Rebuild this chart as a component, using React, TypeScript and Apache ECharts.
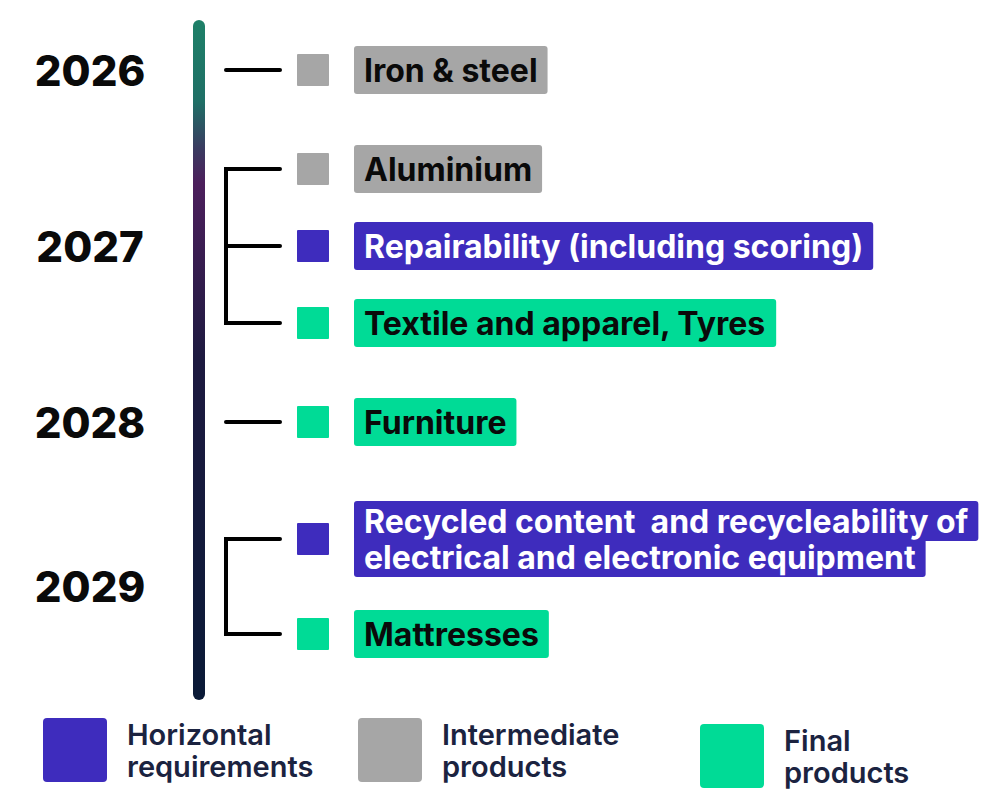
import React, { useEffect, useRef } from 'react';
import * as echarts from 'echarts';

// ---------- data ----------
const years = ['2026', '2027', '2028', '2029'];
const itemLabels = [
  'Iron & steel',
  'Aluminium',
  'Repairability (including scoring)',
  'Textile and apparel, Tyres',
  'Furniture',
  'Recycled content  and recycleability of\nelectrical and electronic equipment',
  'Mattresses',
];
const itemYears = ['2026', '2027', '2027', '2027', '2028', '2029', '2029'];
const itemCategories = [
  'Intermediate products',
  'Intermediate products',
  'Horizontal requirements',
  'Final products',
  'Final products',
  'Horizontal requirements',
  'Final products',
];
const categories = ['Horizontal requirements', 'Intermediate products', 'Final products'];

// ---------- styles / layout ----------
const COLORS: Record<string, string> = {
  'Horizontal requirements': '#3e2cbd',
  'Intermediate products': '#a6a6a6',
  'Final products': '#00db96',
};
const TEXT_COLORS: Record<string, string> = {
  'Horizontal requirements': '#ffffff',
  'Intermediate products': '#0a0a0a',
  'Final products': '#0a0a0a',
};
const ROW_START = 70;
const STEP_IN = 77;
const STEP_OUT = 99;
const EXTRA = 18;
const BAR_X = 199;
const BAR_TOP = 20;
const BAR_BOTTOM = 700;
const BRACKET_X = 226;
const CONN_END = 280;
const SQ_X = 297;
const SQ = 32;
const LABEL_X = 354;
const YEAR_X = 90;
const FONT = 'Inter';

function rowPositions(): number[] {
  const rows: number[] = [];
  let y = ROW_START;
  itemLabels.forEach((lab, i) => {
    if (i > 0) {
      y += itemYears[i] === itemYears[i - 1] ? STEP_IN : STEP_OUT;
      if (lab.includes('\n') || itemLabels[i - 1].includes('\n')) y += EXTRA;
    }
    rows.push(y);
  });
  return rows;
}

export default function App() {
  const ref = useRef<HTMLDivElement>(null);
  useEffect(() => {
    if (!ref.current) return;
    const chart = echarts.init(ref.current, null, { renderer: 'svg' });
    const rows = rowPositions();

    const itemSeries = categories.map((cat) => ({
      type: 'custom',
      name: cat,
      coordinateSystem: 'cartesian2d',
      clip: false,
      itemStyle: { color: COLORS[cat] },
      data: itemLabels
        .map((_, i) => [0, rows[i], i])
        .filter((d) => itemCategories[d[2]] === cat),
      renderItem: (params: any, api: any) => {
        const i = api.value(2);
        const y = api.value(1);
        const color = COLORS[cat];
        const sq = api.coord([SQ_X, y]);
        const lb = api.coord([LABEL_X, y]);
        const lines = itemLabels[i].split('\n');
        const multi = lines.length > 1;
        const lh = multi ? 36 : 38;
        const children: any[] = [
          {
            type: 'rect',
            shape: { x: sq[0], y: sq[1] - SQ / 2, width: SQ, height: SQ, r: 1 },
            style: { fill: color },
          },
        ];
        const texts: any[] = [];
        lines.forEach((ln, k) => {
          const ty = lb[1] + (k - (lines.length - 1) / 2) * lh;
          let pad = [5, 10, 5, 10];
          if (multi) {
            pad = k === 0 ? [4, 10, 0, 10] : k === lines.length - 1 ? [0, 10, 4, 10] : [0, 10, 0, 10];
          }
          texts.push({
            type: 'text',
            x: lb[0],
            y: ty,
            style: {
              text: ln,
              fill: TEXT_COLORS[cat],
              fontSize: 32,
              fontWeight: 'bold',
              fontFamily: FONT,
              align: 'left',
              verticalAlign: 'middle',
              lineHeight: lh,
              backgroundColor: color,
              padding: pad,
              borderRadius: 3,
            },
          });
        });
        // draw lower lines first so upper lines' descenders stay visible
        return { type: 'group', children: children.concat(texts.reverse()) };
      },
    }));

    const yearSeries = {
      type: 'custom',
      name: 'years',
      coordinateSystem: 'cartesian2d',
      clip: false,
      data: years.map((yr, k) => {
        const ys = rows.filter((_, i) => itemYears[i] === yr);
        return [0, Math.min(...ys), Math.max(...ys), k];
      }),
      renderItem: (params: any, api: any) => {
        const k = api.value(3);
        const y1 = api.value(1);
        const y2 = api.value(2);
        const yr = years[k];
        const ys = rows.filter((_, i) => itemYears[i] === yr);
        const lineStyle = { stroke: '#000', lineWidth: 4, lineCap: 'round', lineJoin: 'miter', fill: null };
        const children: any[] = [];
        const bx = api.coord([BRACKET_X, y1])[0];
        const ex = api.coord([CONN_END, y1])[0];
        if (ys.length > 1) {
          const a = api.coord([BRACKET_X, y1]);
          const b = api.coord([BRACKET_X, y2]);
          children.push({
            type: 'polyline',
            shape: { points: [[ex, a[1]], [bx, a[1]], [bx, b[1]], [ex, b[1]]] },
            style: lineStyle,
          });
          ys.slice(1, -1).forEach((yy) => {
            const p = api.coord([BRACKET_X, yy]);
            children.push({ type: 'line', shape: { x1: bx, y1: p[1], x2: ex, y2: p[1] }, style: lineStyle });
          });
        } else {
          const p = api.coord([BRACKET_X, y1]);
          children.push({ type: 'line', shape: { x1: bx, y1: p[1], x2: ex, y2: p[1] }, style: lineStyle });
        }
        const c = api.coord([YEAR_X, (y1 + y2) / 2]);
        children.push({
          type: 'text',
          x: c[0],
          y: c[1],
          style: {
            text: yr,
            fill: '#0a0a0a',
            fontSize: 42,
            fontWeight: 800,
            fontFamily: FONT,
            align: 'center',
            verticalAlign: 'middle',
          },
        });
        return { type: 'group', children };
      },
    };

    const barSeries = {
      type: 'custom',
      name: 'timeline',
      coordinateSystem: 'cartesian2d',
      clip: false,
      z: 1,
      data: [[BAR_X, BAR_TOP, BAR_BOTTOM]],
      renderItem: (params: any, api: any) => {
        const t = api.coord([api.value(0), api.value(1)]);
        const b = api.coord([api.value(0), api.value(2)]);
        return {
          type: 'rect',
          shape: { x: t[0] - 6, y: t[1], width: 12, height: b[1] - t[1], r: 6 },
          style: {
            fill: new echarts.graphic.LinearGradient(0, 0, 0, 1, [
              { offset: 0, color: '#1e8068' },
              { offset: 0.12, color: '#1f6f66' },
              { offset: 0.19, color: '#3a3a60' },
              { offset: 0.24, color: '#4c1f5c' },
              { offset: 0.5, color: '#1d1a40' },
              { offset: 1, color: '#0a1a37' },
            ]),
          },
        };
      },
    };

    const legendPos = [
      { left: 43, top: 718 },
      { left: 358, top: 718 },
      { left: 700, top: 724 },
    ];
    const iconPath =
      'path://M4,0H60A4,4,0,0,1,64,4V60A4,4,0,0,1,60,64H4A4,4,0,0,1,0,60V4A4,4,0,0,1,4,0Z';

    chart.setOption({
      animation: false,
      grid: { left: 0, top: 0, width: 999, height: 790 },
      xAxis: { type: 'value', min: 0, max: 999, show: false },
      yAxis: { type: 'value', min: 0, max: 790, inverse: true, show: false },
      legend: categories.map((cat, k) => ({
        data: [{ name: cat, icon: iconPath }],
        left: legendPos[k].left,
        top: legendPos[k].top,
        padding: 0,
        itemWidth: 64,
        itemHeight: 64,
        selectedMode: false,
        formatter: (n: string) => n.replace(' ', '\n'),
        textStyle: {
          fontSize: 29,
          fontWeight: 600,
          fontFamily: FONT,
          color: '#1b2340',
          lineHeight: 32,
          padding: [0, 0, 0, 15],
        },
      })),
      series: [barSeries, yearSeries, ...itemSeries],
    });
    return () => chart.dispose();
  }, []);
  return (
    <div
      ref={ref}
      style={{ position: 'fixed', left: 0, top: 0, width: 999, height: 790, background: '#fff' }}
    />
  );
}
